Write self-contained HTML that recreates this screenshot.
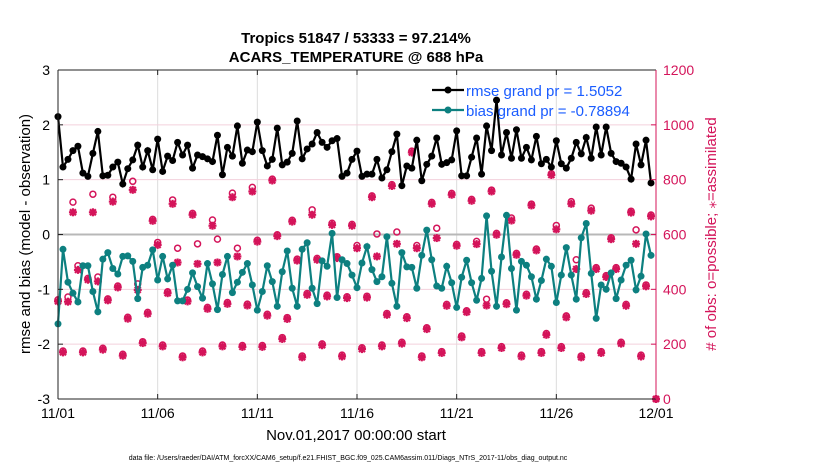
<!DOCTYPE html>
<html><head><meta charset="utf-8"><style>
body{margin:0;background:#fff;width:830px;height:470px;overflow:hidden;font-family:"Liberation Sans",sans-serif}
</style></head><body>
<svg id="chart" width="830" height="470" xmlns="http://www.w3.org/2000/svg" font-family="Liberation Sans, sans-serif">
<rect width="830" height="470" fill="#fff"/>
<text x="356" y="43" text-anchor="middle" font-size="15" font-weight="bold">Tropics 51847 / 53333 = 97.214%</text>
<text x="356" y="62" text-anchor="middle" font-size="15" font-weight="bold">ACARS_TEMPERATURE @ 688 hPa</text>
<g id="grid"></g><g id="marks"></g><g id="axes"></g>
<text transform="translate(30,234) rotate(-90)" text-anchor="middle" font-size="15">rmse and bias (model - observation)</text>
<text transform="translate(716,234) rotate(-90)" text-anchor="middle" font-size="15" fill="#d4145a">
# of obs: o=possible; ⁎=assimilated</text>
<text x="356" y="440" text-anchor="middle" font-size="15">Nov.01,2017 00:00:00 start</text>
<text x="348" y="460" text-anchor="middle" font-size="7">data file: /Users/raeder/DAI/ATM_forcXX/CAM6_setup/f.e21.FHIST_BGC.f09_025.CAM6assim.011/Diags_NTrS_2017-11/obs_diag_output.nc</text>
</svg>
<script>
const xTickLabels=["11/01","11/06","11/11","11/16","11/21","11/26","12/01"];
const xTickDays=[0,5,10,15,20,25,30];
const leftTicks=[3,2,1,0,-1,-2,-3];
const rightTicks=[1200,1000,800,600,400,200,0];
const rmse=[2.15,1.23,1.37,1.53,1.61,1.12,1.06,1.48,1.88,1.07,1.08,1.23,1.32,0.92,1.2,1.36,1.63,1.23,1.53,1.18,1.74,1.15,1.43,1.35,1.68,1.45,1.63,1.21,1.45,1.42,1.38,1.33,1.81,1.09,1.59,1.43,1.98,1.30,1.54,1.51,2.05,1.53,1.25,1.37,1.94,1.27,1.32,1.48,2.07,1.38,1.56,1.65,1.86,1.68,1.59,1.71,1.75,1.06,1.12,1.37,1.52,1.06,1.10,1.10,1.37,1.03,1.18,1.51,1.83,0.89,1.25,1.21,1.72,0.98,1.28,1.43,1.76,1.28,1.31,1.36,1.89,1.07,1.07,1.41,1.76,1.10,1.98,1.53,2.45,1.45,1.86,1.39,1.91,1.39,1.59,1.36,1.79,1.29,1.37,1.23,1.71,1.29,1.21,1.39,1.68,1.47,1.77,1.39,1.96,1.45,1.96,1.48,1.33,1.30,1.23,1.01,1.65,1.27,1.72,0.94];
const bias=[-1.63,-0.27,-0.87,-1.07,-1.23,-0.57,-0.57,-1.04,-1.41,-0.45,-0.33,-0.62,-0.72,-0.40,-0.39,-0.49,-1.17,-0.60,-0.56,-0.28,-0.83,-0.40,-0.81,-0.56,-1.21,-1.21,-1.0,-0.70,-0.95,-1.16,-0.53,-0.90,-1.37,-0.73,-0.40,-1.06,-0.87,-0.69,-0.53,-0.92,-1.38,-1.04,-0.57,-0.86,-1.31,-0.68,-0.30,-0.98,-1.31,-0.27,-0.15,-0.98,-1.26,-0.48,-0.58,0.02,-1.15,-0.46,-0.53,-0.74,-0.97,-0.52,-0.22,-0.64,-0.86,-0.77,-0.04,-0.89,-1.31,-0.33,-0.59,-0.60,-0.98,-0.38,0.08,-0.46,-0.94,-0.98,-0.58,-0.88,-1.33,-0.78,-0.47,-0.88,-1.20,-0.80,0.34,-0.67,-1.31,-0.41,0.35,-0.62,-1.38,-0.49,-0.56,-0.77,-1.18,-0.84,-0.45,-0.58,-1.24,-0.74,-0.24,-0.74,-1.18,-0.06,0.20,-0.71,-1.53,-0.92,-1.00,-0.70,-1.17,-0.83,-0.56,-0.47,-1.01,-0.76,0.01,-0.38];
const nAssim=[356,170,355,681,471,170,435,681,429,180,360,720,407,158,293,763,398,204,311,650,562,192,386,712,498,152,356,672,493,170,329,632,498,192,347,736,520,190,341,757,574,190,304,797,594,219,292,647,505,152,380,672,508,196,374,635,514,155,368,632,550,182,370,736,520,192,307,777,566,202,295,899,550,152,255,712,587,168,340,745,559,225,317,723,565,168,341,757,599,186,346,651,526,155,377,706,542,168,234,817,619,186,298,712,474,152,383,687,474,168,445,583,474,202,340,680,566,155,411,666,0];
const nPoss=[362,175,372,718,486,175,440,747,445,185,365,736,412,163,298,794,420,209,316,655,571,197,391,726,550,157,361,677,566,175,334,653,583,197,352,751,550,195,346,772,579,195,309,802,599,224,297,652,510,157,385,690,513,201,379,641,519,160,373,637,560,187,375,741,602,197,312,782,609,207,300,904,560,157,260,717,623,173,345,750,564,230,322,728,575,173,364,762,604,191,351,660,531,160,382,711,547,173,239,822,633,191,303,720,508,157,388,696,479,173,450,588,479,207,345,685,617,160,416,671,0];

const X0=58,X1=656,Y0=70,Y1=399;
const xs=d=>X0+d/30*(X1-X0);
const yl=v=>Y0+(3-v)/6*(Y1-Y0);
const yr=c=>Y1-c/1200*(Y1-Y0);
const NS="http://www.w3.org/2000/svg";
function mk(tag,attrs,parent){const e=document.createElementNS(NS,tag);for(const k in attrs)e.setAttribute(k,attrs[k]);parent.appendChild(e);return e;}
const grid=document.getElementById('grid'),marks=document.getElementById('marks'),axes=document.getElementById('axes');
const PINK="#d4145a",TEAL="#0d8080";

xTickDays.forEach((d,i)=>{
  if(d>0&&d<30){const g=mk('line',{x1:xs(d),x2:xs(d),y1:Y0,y2:Y1,stroke:'#dcdcdc','stroke-width':1},grid);
  
  }
  const t=mk('text',{x:xs(d),y:Y1+19,'text-anchor':'middle','font-size':14},axes);t.textContent=xTickLabels[i];
  
  
  mk('line',{x1:xs(d),x2:xs(d),y1:Y1,y2:Y1-5,stroke:'#222'},axes);
  mk('line',{x1:xs(d),x2:xs(d),y1:Y0,y2:Y0+5,stroke:'#222'},axes);
});
leftTicks.forEach(v=>{
  if(v<3&&v>-3){const g=mk('line',{x1:X0,x2:X1,y1:yl(v),y2:yl(v),stroke:v===0?'#b8b8b8':'#f3d0dc','stroke-width':v===0?2:1},grid);
  
  }
  const t=mk('text',{x:X0-8,y:yl(v)+5,'text-anchor':'end','font-size':14},axes);t.textContent=v;
  
  
  mk('line',{x1:X0,x2:X0+5,y1:yl(v),y2:yl(v),stroke:'#222'},axes);
});
rightTicks.forEach(c=>{
  const t=mk('text',{x:X1+7,y:yr(c)+5,'font-size':14,fill:PINK},axes);t.textContent=c;
  
  
  mk('line',{x1:X1,x2:X1-5,y1:yr(c),y2:yr(c),stroke:PINK},axes);
});
mk('line',{x1:X0,x2:X0,y1:Y0,y2:Y1,stroke:'#222'},axes);
mk('line',{x1:X0,x2:X1,y1:Y0,y2:Y0,stroke:'#222'},axes);
mk('line',{x1:X0,x2:X1,y1:Y1,y2:Y1,stroke:'#222'},axes);
mk('line',{x1:X1,x2:X1,y1:Y0,y2:Y1,stroke:PINK},axes);

// obs counts
nPoss.forEach((c,i)=>{
  const o=mk('circle',{cx:xs(i*0.25),cy:yr(c),r:3,fill:'none',stroke:PINK,'stroke-width':1.5},marks);
  
  
});
nAssim.forEach((c,i)=>{
  const x=xs(i*0.25),y=yr(c),s=4;
  const g=mk('g',{stroke:PINK,'stroke-width':2.2},marks);
  
  
  mk('line',{x1:x-s,x2:x+s,y1:y,y2:y},g);mk('line',{x1:x,x2:x,y1:y-s,y2:y+s},g);
  mk('line',{x1:x-3,x2:x+3,y1:y-3,y2:y+3},g);mk('line',{x1:x-3,x2:x+3,y1:y+3,y2:y-3},g);
});
function series(arr,color,name){
  const p=mk('polyline',{points:arr.map((v,i)=>xs(i*0.25)+','+yl(v)).join(' '),fill:'none',stroke:color,'stroke-width':2.2},marks);
  
  
  arr.forEach((v,i)=>{const c=mk('circle',{cx:xs(i*0.25),cy:yl(v),r:3.5,fill:color},marks);
    
    });
}
series(rmse,'#000','rmse');
series(bias,TEAL,'bias');

// legend
const lg=mk('g',{},axes);


[['rmse grand pr = 1.5052','#000',90],['bias grand pr = -0.78894',TEAL,110]].forEach(([t,c,y])=>{
  mk('line',{x1:432,x2:464,y1:y,y2:y,stroke:c,'stroke-width':2.2},lg);
  mk('circle',{cx:448,cy:y,r:3.5,fill:c},lg);
  const tx=mk('text',{x:466,y:y+6,'font-size':15,fill:'#1a5cff'},lg);tx.textContent=t;
  
  
});
</script>
</body></html>
